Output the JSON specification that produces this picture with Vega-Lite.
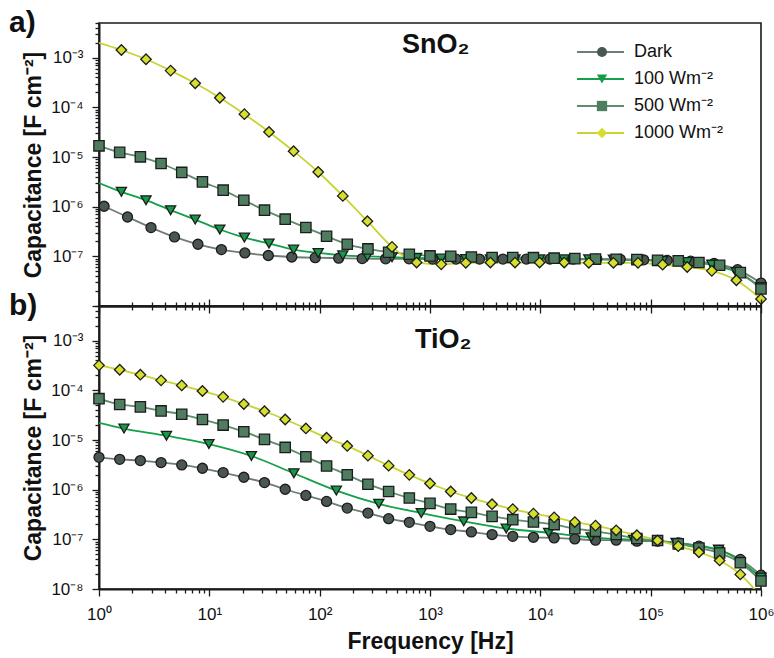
{
  "$schema": "https://vega.github.io/schema/vega-lite/v6.json",
  "background": "white",
  "padding": {"left": 8, "top": 7, "right": 8, "bottom": 6},
  "spacing": 0,
  "bounds": "flush",
  "config": {
    "font": "Liberation Sans",
    "view": {"stroke": "#1a1a1a", "strokeWidth": 1.6},
    "axis": {"grid": false, "domainColor": "#1a1a1a", "domainWidth": 2, "tickColor": "#1a1a1a", "tickWidth": 1.3, "labelColor": "#111", "labelFontSize": 17, "labelFont": "Liberation Sans", "titleFont": "Liberation Sans", "titleFontSize": 23, "titleFontWeight": "bold", "titleColor": "#111", "labelFlush": false, "labelOverlap": false},
    "legend": {"labelFont": "Liberation Sans", "labelColor": "#111"},
    "text": {"font": "Liberation Sans"}
  },
  "datasets": {
    "sno2": [
      {"s":"Dark","f":1.112,"c":1.02e-6},{"s":"Dark","f":1.814,"c":6.2e-7},{"s":"Dark","f":2.96,"c":3.8e-7},{"s":"Dark","f":4.831,"c":2.46e-7},{"s":"Dark","f":7.881,"c":1.75e-7},{"s":"Dark","f":12.86,"c":1.37e-7},{"s":"Dark","f":20.99,"c":1.17e-7},{"s":"Dark","f":34.24,"c":1.04e-7},{"s":"Dark","f":55.88,"c":9.7e-8},{"s":"Dark","f":91.18,"c":9.4e-8},{"s":"Dark","f":148.8,"c":9.2e-8},{"s":"Dark","f":242.8,"c":9.0e-8},{"s":"Dark","f":396.1,"c":8.9e-8},{"s":"Dark","f":646.3,"c":8.9e-8},{"s":"Dark","f":1055,"c":8.8e-8},{"s":"Dark","f":1721,"c":8.8e-8},{"s":"Dark","f":2808,"c":8.8e-8},{"s":"Dark","f":4582,"c":8.8e-8},{"s":"Dark","f":7476,"c":8.8e-8},{"s":"Dark","f":12200,"c":8.8e-8},{"s":"Dark","f":19900,"c":8.8e-8},{"s":"Dark","f":32470,"c":8.8e-8},{"s":"Dark","f":52990,"c":8.7e-8},{"s":"Dark","f":86460,"c":8.5e-8},{"s":"Dark","f":141100,"c":8.3e-8},{"s":"Dark","f":230200,"c":8.0e-8},{"s":"Dark","f":375600,"c":7.2e-8},{"s":"Dark","f":612900,"c":5.4e-8},{"s":"Dark","f":1000000,"c":2.9e-8},
      {"s":"100 Wm⁻²","f":1,"c":3.0e-6,"m":0},{"s":"100 Wm⁻²","f":1.596,"c":1.99e-6},{"s":"100 Wm⁻²","f":2.667,"c":1.35e-6},{"s":"100 Wm⁻²","f":4.457,"c":8.5e-7},{"s":"100 Wm⁻²","f":7.446,"c":5.5e-7},{"s":"100 Wm⁻²","f":12.44,"c":3.47e-7},{"s":"100 Wm⁻²","f":20.79,"c":2.39e-7},{"s":"100 Wm⁻²","f":34.74,"c":1.81e-7},{"s":"100 Wm⁻²","f":58.05,"c":1.37e-7},{"s":"100 Wm⁻²","f":97.0,"c":1.17e-7},{"s":"100 Wm⁻²","f":162.1,"c":1.05e-7},{"s":"100 Wm⁻²","f":270.9,"c":1.0e-7},{"s":"100 Wm⁻²","f":452.6,"c":9.6e-8},{"s":"100 Wm⁻²","f":756.2,"c":9.3e-8},{"s":"100 Wm⁻²","f":1264,"c":9.0e-8},{"s":"100 Wm⁻²","f":2111,"c":8.8e-8},{"s":"100 Wm⁻²","f":3528,"c":8.7e-8},{"s":"100 Wm⁻²","f":5894,"c":8.7e-8},{"s":"100 Wm⁻²","f":9848,"c":8.7e-8},{"s":"100 Wm⁻²","f":16460,"c":8.7e-8},{"s":"100 Wm⁻²","f":27500,"c":8.7e-8},{"s":"100 Wm⁻²","f":45960,"c":8.6e-8},{"s":"100 Wm⁻²","f":76790,"c":8.4e-8},{"s":"100 Wm⁻²","f":128300,"c":8.1e-8},{"s":"100 Wm⁻²","f":214400,"c":7.7e-8},{"s":"100 Wm⁻²","f":358200,"c":6.8e-8},{"s":"100 Wm⁻²","f":598500,"c":4.8e-8},{"s":"100 Wm⁻²","f":1000000,"c":2.4e-8},
      {"s":"500 Wm⁻²","f":1,"c":1.68e-5},{"s":"500 Wm⁻²","f":1.54,"c":1.24e-5},{"s":"500 Wm⁻²","f":2.371,"c":1.01e-5},{"s":"500 Wm⁻²","f":3.652,"c":7.4e-6},{"s":"500 Wm⁻²","f":5.623,"c":4.9e-6},{"s":"500 Wm⁻²","f":8.66,"c":3.16e-6},{"s":"500 Wm⁻²","f":13.34,"c":2.15e-6},{"s":"500 Wm⁻²","f":20.54,"c":1.35e-6},{"s":"500 Wm⁻²","f":31.62,"c":8.5e-7},{"s":"500 Wm⁻²","f":48.7,"c":5.6e-7},{"s":"500 Wm⁻²","f":74.99,"c":3.8e-7},{"s":"500 Wm⁻²","f":115.5,"c":2.54e-7},{"s":"500 Wm⁻²","f":177.8,"c":1.75e-7},{"s":"500 Wm⁻²","f":273.8,"c":1.41e-7},{"s":"500 Wm⁻²","f":421.7,"c":1.21e-7},{"s":"500 Wm⁻²","f":649.4,"c":1.1e-7},{"s":"500 Wm⁻²","f":1000,"c":1.02e-7},{"s":"500 Wm⁻²","f":1540,"c":1.0e-7},{"s":"500 Wm⁻²","f":2371,"c":9.7e-8},{"s":"500 Wm⁻²","f":3652,"c":9.5e-8},{"s":"500 Wm⁻²","f":5623,"c":9.5e-8},{"s":"500 Wm⁻²","f":8660,"c":9.4e-8},{"s":"500 Wm⁻²","f":13340,"c":9.2e-8},{"s":"500 Wm⁻²","f":20540,"c":9.0e-8},{"s":"500 Wm⁻²","f":31620,"c":8.8e-8},{"s":"500 Wm⁻²","f":48700,"c":8.7e-8},{"s":"500 Wm⁻²","f":74990,"c":8.6e-8},{"s":"500 Wm⁻²","f":115500,"c":8.3e-8},{"s":"500 Wm⁻²","f":177800,"c":8.1e-8},{"s":"500 Wm⁻²","f":273800,"c":7.5e-8},{"s":"500 Wm⁻²","f":421700,"c":6.6e-8},{"s":"500 Wm⁻²","f":649400,"c":4.7e-8},{"s":"500 Wm⁻²","f":1000000,"c":2.2e-8},
      {"s":"1000 Wm⁻²","f":1,"c":2.0e-3,"m":0},{"s":"1000 Wm⁻²","f":1.596,"c":1.43e-3},{"s":"1000 Wm⁻²","f":2.667,"c":9.3e-4},{"s":"1000 Wm⁻²","f":4.457,"c":5.5e-4},{"s":"1000 Wm⁻²","f":7.446,"c":3.05e-4},{"s":"1000 Wm⁻²","f":12.44,"c":1.56e-4},{"s":"1000 Wm⁻²","f":20.79,"c":7.3e-5},{"s":"1000 Wm⁻²","f":34.74,"c":3.2e-5},{"s":"1000 Wm⁻²","f":58.05,"c":1.31e-5},{"s":"1000 Wm⁻²","f":97.0,"c":5.0e-6},{"s":"1000 Wm⁻²","f":162.1,"c":1.65e-6},{"s":"1000 Wm⁻²","f":270.9,"c":5.1e-7},{"s":"1000 Wm⁻²","f":452.6,"c":1.55e-7},{"s":"1000 Wm⁻²","f":756.2,"c":7.5e-8},{"s":"1000 Wm⁻²","f":1264,"c":6.9e-8},{"s":"1000 Wm⁻²","f":2111,"c":7.4e-8},{"s":"1000 Wm⁻²","f":3528,"c":7.5e-8},{"s":"1000 Wm⁻²","f":5894,"c":7.5e-8},{"s":"1000 Wm⁻²","f":9848,"c":7.5e-8},{"s":"1000 Wm⁻²","f":16460,"c":7.5e-8},{"s":"1000 Wm⁻²","f":27500,"c":7.4e-8},{"s":"1000 Wm⁻²","f":45960,"c":7.4e-8},{"s":"1000 Wm⁻²","f":76790,"c":7.4e-8},{"s":"1000 Wm⁻²","f":128300,"c":6.8e-8},{"s":"1000 Wm⁻²","f":214400,"c":6.1e-8},{"s":"1000 Wm⁻²","f":358200,"c":5.1e-8},{"s":"1000 Wm⁻²","f":598500,"c":3.3e-8},{"s":"1000 Wm⁻²","f":1000000,"c":1.38e-8}
    ],
    "tio2": [
      {"s":"Dark","f":1,"c":4.48e-6},{"s":"Dark","f":1.54,"c":4.08e-6},{"s":"Dark","f":2.371,"c":3.85e-6},{"s":"Dark","f":3.652,"c":3.51e-6},{"s":"Dark","f":5.623,"c":3.15e-6},{"s":"Dark","f":8.66,"c":2.7e-6},{"s":"Dark","f":13.34,"c":2.21e-6},{"s":"Dark","f":20.54,"c":1.78e-6},{"s":"Dark","f":31.62,"c":1.39e-6},{"s":"Dark","f":48.7,"c":1.02e-6},{"s":"Dark","f":74.99,"c":7.65e-7},{"s":"Dark","f":115.5,"c":5.8e-7},{"s":"Dark","f":177.8,"c":4.26e-7},{"s":"Dark","f":273.8,"c":3.38e-7},{"s":"Dark","f":421.7,"c":2.61e-7},{"s":"Dark","f":649.4,"c":2.2e-7},{"s":"Dark","f":1000,"c":1.83e-7},{"s":"Dark","f":1540,"c":1.57e-7},{"s":"Dark","f":2371,"c":1.41e-7},{"s":"Dark","f":3652,"c":1.25e-7},{"s":"Dark","f":5623,"c":1.15e-7},{"s":"Dark","f":8660,"c":1.1e-7},{"s":"Dark","f":13340,"c":1.07e-7},{"s":"Dark","f":20540,"c":1.02e-7},{"s":"Dark","f":31620,"c":9.6e-8},{"s":"Dark","f":48700,"c":9.6e-8},{"s":"Dark","f":74990,"c":9.2e-8},{"s":"Dark","f":115500,"c":9.2e-8},{"s":"Dark","f":177800,"c":8.5e-8},{"s":"Dark","f":273800,"c":7.3e-8},{"s":"Dark","f":421700,"c":6.0e-8},{"s":"Dark","f":649400,"c":3.94e-8},{"s":"Dark","f":1000000,"c":1.9e-8},
      {"s":"100 Wm⁻²","f":1,"c":2.22e-5,"m":0},{"s":"100 Wm⁻²","f":1.685,"c":1.7e-5},{"s":"100 Wm⁻²","f":4.087,"c":1.22e-5},{"s":"100 Wm⁻²","f":9.915,"c":8.3e-6},{"s":"100 Wm⁻²","f":24.06,"c":4.78e-6},{"s":"100 Wm⁻²","f":58.37,"c":2.14e-6},{"s":"100 Wm⁻²","f":141.6,"c":9.6e-7},{"s":"100 Wm⁻²","f":343.5,"c":5.2e-7},{"s":"100 Wm⁻²","f":833.4,"c":3.38e-7},{"s":"100 Wm⁻²","f":2022,"c":2.3e-7},{"s":"100 Wm⁻²","f":4905,"c":1.65e-7},{"s":"100 Wm⁻²","f":11900,"c":1.36e-7},{"s":"100 Wm⁻²","f":28870,"c":1.1e-7},{"s":"100 Wm⁻²","f":70040,"c":9.8e-8},{"s":"100 Wm⁻²","f":169900,"c":8.5e-8},{"s":"100 Wm⁻²","f":412200,"c":6.2e-8},{"s":"100 Wm⁻²","f":1000000,"c":1.7e-8},
      {"s":"500 Wm⁻²","f":1,"c":6.8e-5},{"s":"500 Wm⁻²","f":1.54,"c":5.2e-5},{"s":"500 Wm⁻²","f":2.371,"c":4.65e-5},{"s":"500 Wm⁻²","f":3.652,"c":3.86e-5},{"s":"500 Wm⁻²","f":5.623,"c":3.3e-5},{"s":"500 Wm⁻²","f":8.66,"c":2.59e-5},{"s":"500 Wm⁻²","f":13.34,"c":2.0e-5},{"s":"500 Wm⁻²","f":20.54,"c":1.47e-5},{"s":"500 Wm⁻²","f":31.62,"c":1.03e-5},{"s":"500 Wm⁻²","f":48.7,"c":7.1e-6},{"s":"500 Wm⁻²","f":74.99,"c":4.6e-6},{"s":"500 Wm⁻²","f":115.5,"c":3.0e-6},{"s":"500 Wm⁻²","f":177.8,"c":1.99e-6},{"s":"500 Wm⁻²","f":273.8,"c":1.29e-6},{"s":"500 Wm⁻²","f":421.7,"c":9.2e-7},{"s":"500 Wm⁻²","f":649.4,"c":6.8e-7},{"s":"500 Wm⁻²","f":1000,"c":5.3e-7},{"s":"500 Wm⁻²","f":1540,"c":4.07e-7},{"s":"500 Wm⁻²","f":2371,"c":3.49e-7},{"s":"500 Wm⁻²","f":3652,"c":2.9e-7},{"s":"500 Wm⁻²","f":5623,"c":2.49e-7},{"s":"500 Wm⁻²","f":8660,"c":2.23e-7},{"s":"500 Wm⁻²","f":13340,"c":1.98e-7},{"s":"500 Wm⁻²","f":20540,"c":1.64e-7},{"s":"500 Wm⁻²","f":31620,"c":1.45e-7},{"s":"500 Wm⁻²","f":48700,"c":1.25e-7},{"s":"500 Wm⁻²","f":74990,"c":1.04e-7},{"s":"500 Wm⁻²","f":115500,"c":9.5e-8},{"s":"500 Wm⁻²","f":177800,"c":8.1e-8},{"s":"500 Wm⁻²","f":273800,"c":6.7e-8},{"s":"500 Wm⁻²","f":421700,"c":5.3e-8},{"s":"500 Wm⁻²","f":649400,"c":3.37e-8},{"s":"500 Wm⁻²","f":1000000,"c":1.45e-8},
      {"s":"1000 Wm⁻²","f":1,"c":3.19e-4},{"s":"1000 Wm⁻²","f":1.54,"c":2.6e-4},{"s":"1000 Wm⁻²","f":2.371,"c":2.07e-4},{"s":"1000 Wm⁻²","f":3.652,"c":1.59e-4},{"s":"1000 Wm⁻²","f":5.623,"c":1.26e-4},{"s":"1000 Wm⁻²","f":8.66,"c":9.7e-5},{"s":"1000 Wm⁻²","f":13.34,"c":7.4e-5},{"s":"1000 Wm⁻²","f":20.54,"c":5.3e-5},{"s":"1000 Wm⁻²","f":31.62,"c":3.8e-5},{"s":"1000 Wm⁻²","f":48.7,"c":2.59e-5},{"s":"1000 Wm⁻²","f":74.99,"c":1.71e-5},{"s":"1000 Wm⁻²","f":115.5,"c":1.11e-5},{"s":"1000 Wm⁻²","f":177.8,"c":7.6e-6},{"s":"1000 Wm⁻²","f":273.8,"c":4.85e-6},{"s":"1000 Wm⁻²","f":421.7,"c":3.05e-6},{"s":"1000 Wm⁻²","f":649.4,"c":1.99e-6},{"s":"1000 Wm⁻²","f":1000,"c":1.33e-6},{"s":"1000 Wm⁻²","f":1540,"c":9.2e-7},{"s":"1000 Wm⁻²","f":2371,"c":6.8e-7},{"s":"1000 Wm⁻²","f":3652,"c":5.1e-7},{"s":"1000 Wm⁻²","f":5623,"c":4.06e-7},{"s":"1000 Wm⁻²","f":8660,"c":3.29e-7},{"s":"1000 Wm⁻²","f":13340,"c":2.77e-7},{"s":"1000 Wm⁻²","f":20540,"c":2.23e-7},{"s":"1000 Wm⁻²","f":31620,"c":1.89e-7},{"s":"1000 Wm⁻²","f":48700,"c":1.52e-7},{"s":"1000 Wm⁻²","f":74990,"c":1.21e-7},{"s":"1000 Wm⁻²","f":115500,"c":9.5e-8},{"s":"1000 Wm⁻²","f":177800,"c":7.3e-8},{"s":"1000 Wm⁻²","f":273800,"c":5.5e-8},{"s":"1000 Wm⁻²","f":421700,"c":3.76e-8},{"s":"1000 Wm⁻²","f":649400,"c":1.97e-8},{"s":"1000 Wm⁻²","f":1000000,"c":7e-9,"m":0}
    ]
  },
  "vconcat": [
    {
      "width": 662, "height": 283,
      "title": {"text": "a)", "anchor": "start", "frame": "group", "orient": "top", "offset": 0, "dx": -90, "dy": 48, "baseline": "alphabetic", "fontSize": 30, "fontWeight": "bold", "color": "#111"},
      "data": {"name": "sno2"},
      "layer": [
        {
          "mark": {"type": "line", "interpolate": "monotone", "strokeWidth": 1.8, "clip": true},
          "encoding": {
            "x": {"field": "f", "type": "quantitative", "scale": {"type": "log", "domain": [1, 1000000], "nice": false},
              "axis": {"orient": "bottom", "title": null, "labels": false,
                "values": [1,2,3,4,5,6,7,8,9,10,20,30,40,50,60,70,80,90,100,200,300,400,500,600,700,800,900,1000,2000,3000,4000,5000,6000,7000,8000,9000,10000,20000,30000,40000,50000,60000,70000,80000,90000,100000,200000,300000,400000,500000,600000,700000,800000,900000,1000000],
                "tickSize": {"condition": {"test": "abs(log(datum.value)/LN10-round(log(datum.value)/LN10))<0.01", "value": 7}, "value": 4}}},
            "y": {"field": "c", "type": "quantitative", "scale": {"type": "log", "domain": [1e-8, 0.005], "nice": false},
              "axis": {"orient": "left", "title": "Capacitance [F cm⁻²]", "labelPadding": 9, "titlePadding": 5,
                "values": [1e-8,2e-8,3e-8,4e-8,5e-8,6e-8,7e-8,8e-8,9e-8,1e-7,2e-7,3e-7,4e-7,5e-7,6e-7,7e-7,8e-7,9e-7,1e-6,2e-6,3e-6,4e-6,5e-6,6e-6,7e-6,8e-6,9e-6,1e-5,2e-5,3e-5,4e-5,5e-5,6e-5,7e-5,8e-5,9e-5,0.0001,0.0002,0.0003,0.0004,0.0005,0.0006,0.0007,0.0008,0.0009,0.001,0.002,0.003,0.004,0.005],
                "labelExpr": "abs(log(datum.value)/LN10-round(log(datum.value)/LN10))<0.01 && datum.value>1.5e-8 ? '10⁻' + ['⁰','¹','²','³','⁴','⁵','⁶','⁷','⁸','⁹'][-round(log(datum.value)/LN10)] : ''",
                "tickSize": {"condition": {"test": "abs(log(datum.value)/LN10-round(log(datum.value)/LN10))<0.01", "value": 7}, "value": 4}}},
            "stroke": {"field": "s", "type": "nominal",
              "scale": {"domain": ["Dark","100 Wm⁻²","500 Wm⁻²","1000 Wm⁻²"," "], "range": ["#6f7d72","#15a04a","#5e8c6c","#c8d431","#ffffff"]},
              "legend": {"orient": "none", "legendX": 477, "legendY": 19, "title": null, "values": ["Dark","100 Wm⁻²","500 Wm⁻²","1000 Wm⁻²"], "symbolType": "stroke", "symbolSize": 2209, "symbolStrokeWidth": 2, "labelOffset": 9, "labelFontSize": 18, "clipHeight": 20, "rowPadding": 7, "padding": 0}}
          }
        },
        {
          "transform": [{"filter": "datum.m !== 0"}],
          "mark": {"type": "point", "filled": true, "opacity": 1, "stroke": "#1c1c1c", "strokeWidth": 1.3},
          "encoding": {
            "x": {"field": "f", "type": "quantitative"},
            "y": {"field": "c", "type": "quantitative"},
            "fill": {"field": "s", "type": "nominal", "scale": {"domain": ["Dark","100 Wm⁻²","500 Wm⁻²","1000 Wm⁻²"], "range": ["#4a5650","#16994a","#4e7d60","#d5df2c"]},
              "legend": {"orient": "none", "legendX": 494, "legendY": 19, "title": null, "symbolStrokeWidth": 1.3, "symbolStrokeColor": "#1c1c1c", "labelExpr": "''", "labelFontSize": 18, "clipHeight": 20, "rowPadding": 7, "padding": 0}},
            "shape": {"field": "s", "type": "nominal", "scale": {"domain": ["Dark","100 Wm⁻²","500 Wm⁻²","1000 Wm⁻²"], "range": ["circle","triangle-down","square","diamond"]},
              "legend": {"orient": "none", "legendX": 494, "legendY": 19, "title": null, "symbolStrokeWidth": 1.3, "symbolStrokeColor": "#1c1c1c", "labelExpr": "''", "labelFontSize": 18, "clipHeight": 20, "rowPadding": 7, "padding": 0}},
            "size": {"field": "s", "type": "nominal", "scale": {"domain": ["Dark","100 Wm⁻²","500 Wm⁻²","1000 Wm⁻²"], "range": [100, 110, 95, 165]},
              "legend": {"orient": "none", "legendX": 494, "legendY": 19, "title": null, "symbolStrokeWidth": 1.3, "symbolStrokeColor": "#1c1c1c", "labelExpr": "''", "labelFontSize": 18, "clipHeight": 20, "rowPadding": 7, "padding": 0}}
          }
        },
        {
          "data": {"values": [{"t": "SnO₂"}]},
          "mark": {"type": "text", "fontSize": 27, "fontWeight": "bold", "align": "center", "baseline": "alphabetic", "color": "#111"},
          "encoding": {
            "text": {"field": "t"},
            "x": {"datum": 1130, "type": "quantitative"},
            "y": {"datum": 0.00125, "type": "quantitative"}
          }
        }
      ]
    },
    {
      "width": 662, "height": 283,
      "title": {"text": "b)", "anchor": "start", "frame": "group", "orient": "top", "offset": 0, "dx": -90, "dy": 48, "baseline": "alphabetic", "fontSize": 30, "fontWeight": "bold", "color": "#111"},
      "data": {"name": "tio2"},
      "resolve": {"axis": {"x": "independent"}},
      "layer": [
        {
          "mark": {"type": "line", "interpolate": "monotone", "strokeWidth": 1.8, "clip": true},
          "encoding": {
            "x": {"field": "f", "type": "quantitative", "scale": {"type": "log", "domain": [1, 1000000], "nice": false},
              "axis": {"orient": "bottom", "title": "Frequency [Hz]", "titleFontSize": 23, "labelPadding": 10, "titlePadding": 8,
                "values": [1,2,3,4,5,6,7,8,9,10,20,30,40,50,60,70,80,90,100,200,300,400,500,600,700,800,900,1000,2000,3000,4000,5000,6000,7000,8000,9000,10000,20000,30000,40000,50000,60000,70000,80000,90000,100000,200000,300000,400000,500000,600000,700000,800000,900000,1000000],
                "labelExpr": "abs(log(datum.value)/LN10-round(log(datum.value)/LN10))<0.01 ? '10' + ['⁰','¹','²','³','⁴','⁵','⁶','⁷','⁸','⁹'][round(log(datum.value)/LN10)] : ''",
                "tickSize": {"condition": {"test": "abs(log(datum.value)/LN10-round(log(datum.value)/LN10))<0.01", "value": 7}, "value": 4}}},
            "y": {"field": "c", "type": "quantitative", "scale": {"type": "log", "domain": [1e-8, 0.005], "nice": false},
              "axis": {"orient": "left", "title": "Capacitance [F cm⁻²]", "labelPadding": 9, "titlePadding": 5,
                "values": [1e-8,2e-8,3e-8,4e-8,5e-8,6e-8,7e-8,8e-8,9e-8,1e-7,2e-7,3e-7,4e-7,5e-7,6e-7,7e-7,8e-7,9e-7,1e-6,2e-6,3e-6,4e-6,5e-6,6e-6,7e-6,8e-6,9e-6,1e-5,2e-5,3e-5,4e-5,5e-5,6e-5,7e-5,8e-5,9e-5,0.0001,0.0002,0.0003,0.0004,0.0005,0.0006,0.0007,0.0008,0.0009,0.001,0.002,0.003,0.004,0.005],
                "labelExpr": "abs(log(datum.value)/LN10-round(log(datum.value)/LN10))<0.01 ? '10⁻' + ['⁰','¹','²','³','⁴','⁵','⁶','⁷','⁸','⁹'][-round(log(datum.value)/LN10)] : ''",
                "tickSize": {"condition": {"test": "abs(log(datum.value)/LN10-round(log(datum.value)/LN10))<0.01", "value": 7}, "value": 4}}},
            "stroke": {"field": "s", "type": "nominal",
              "scale": {"domain": ["Dark","100 Wm⁻²","500 Wm⁻²","1000 Wm⁻²"," "], "range": ["#6f7d72","#15a04a","#5e8c6c","#c8d431","#ffffff"]},
              "legend": {"orient": "none", "legendX": 477, "legendY": 19, "title": null, "values": ["Dark","100 Wm⁻²","500 Wm⁻²","1000 Wm⁻²"], "symbolType": "stroke", "symbolSize": 2209, "symbolStrokeWidth": 2, "labelOffset": 9, "labelFontSize": 18, "clipHeight": 20, "rowPadding": 7, "padding": 0}}
          }
        },
        {
          "transform": [{"filter": "datum.m !== 0"}],
          "mark": {"type": "point", "filled": true, "opacity": 1, "stroke": "#1c1c1c", "strokeWidth": 1.3},
          "encoding": {
            "x": {"field": "f", "type": "quantitative", "axis": null},
            "y": {"field": "c", "type": "quantitative"},
            "fill": {"field": "s", "type": "nominal", "scale": {"domain": ["Dark","100 Wm⁻²","500 Wm⁻²","1000 Wm⁻²"], "range": ["#4a5650","#16994a","#4e7d60","#d5df2c"]},
              "legend": {"orient": "none", "legendX": 494, "legendY": 19, "title": null, "symbolStrokeWidth": 1.3, "symbolStrokeColor": "#1c1c1c", "labelExpr": "''", "labelFontSize": 18, "clipHeight": 20, "rowPadding": 7, "padding": 0}},
            "shape": {"field": "s", "type": "nominal", "scale": {"domain": ["Dark","100 Wm⁻²","500 Wm⁻²","1000 Wm⁻²"], "range": ["circle","triangle-down","square","diamond"]},
              "legend": {"orient": "none", "legendX": 494, "legendY": 19, "title": null, "symbolStrokeWidth": 1.3, "symbolStrokeColor": "#1c1c1c", "labelExpr": "''", "labelFontSize": 18, "clipHeight": 20, "rowPadding": 7, "padding": 0}},
            "size": {"field": "s", "type": "nominal", "scale": {"domain": ["Dark","100 Wm⁻²","500 Wm⁻²","1000 Wm⁻²"], "range": [100, 110, 95, 165]},
              "legend": {"orient": "none", "legendX": 494, "legendY": 19, "title": null, "symbolStrokeWidth": 1.3, "symbolStrokeColor": "#1c1c1c", "labelExpr": "''", "labelFontSize": 18, "clipHeight": 20, "rowPadding": 7, "padding": 0}}
          }
        },
        {
          "data": {"values": [{"t": "TiO₂"}]},
          "mark": {"type": "text", "fontSize": 27, "fontWeight": "bold", "align": "center", "baseline": "alphabetic", "color": "#111"},
          "encoding": {
            "text": {"field": "t"},
            "x": {"datum": 1320, "type": "quantitative",
              "axis": {"orient": "top", "title": null, "labels": false,
                "values": [1,2,3,4,5,6,7,8,9,10,20,30,40,50,60,70,80,90,100,200,300,400,500,600,700,800,900,1000,2000,3000,4000,5000,6000,7000,8000,9000,10000,20000,30000,40000,50000,60000,70000,80000,90000,100000,200000,300000,400000,500000,600000,700000,800000,900000,1000000],
                "tickSize": {"condition": {"test": "abs(log(datum.value)/LN10-round(log(datum.value)/LN10))<0.01", "value": 7}, "value": 4}}},
            "y": {"datum": 0.0007, "type": "quantitative"}
          }
        }
      ]
    }
  ]
}
